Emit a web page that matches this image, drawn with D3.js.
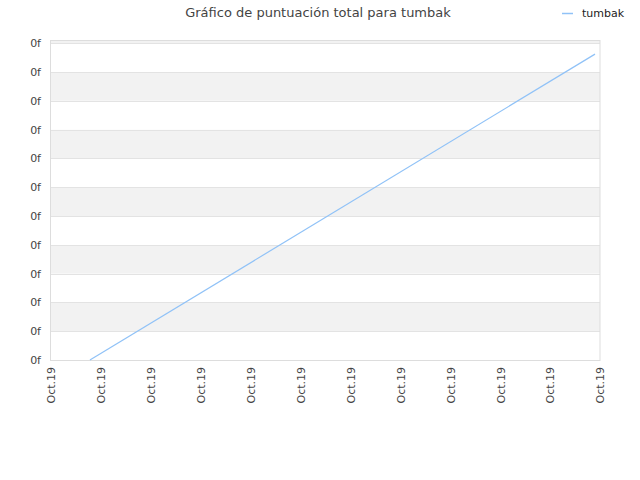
<!DOCTYPE html>
<html>
<head>
<meta charset="utf-8">
<script src="https://cdn.jsdelivr.net/npm/d3@7"></script>
<style>
  body { margin: 0; background: #fff; }
  svg { font-family: "DejaVu Sans", sans-serif; }
</style>
</head>
<body>
<div id="container"></div>
<script>
"use strict"

const chartTitle = "Gráfico de puntuación total para tumbak";
const seriesName = "tumbak";
// x positions are in tick units (one unit per "Oct.19" label)
const pointX = [0.78, 10.9];
const pointY = [0, 10.62];
const xTickLabels = ["Oct.19", "Oct.19", "Oct.19", "Oct.19", "Oct.19", "Oct.19",
                     "Oct.19", "Oct.19", "Oct.19", "Oct.19", "Oct.19", "Oct.19"];
const yTickValues = [0, 1, 2, 3, 4, 5, 6, 7, 8, 9, 10, 11];
const yTickLabel = "0f";

const width = 640;
const height = 480;
const margin = {top: 40, right: 40, bottom: 120, left: 51};
const lineColor = "#90c2f7";

let svg;
let xScale;
let yScale;

function Main()
{
    CreateSVG();
    CreateScales();
    DrawBands();
    DrawAxes();
    DrawLine();
    DrawTitle();
    DrawLegend();
    document.getElementById("container").append(svg.node());
};

function CreateSVG()
{
    svg = d3.create("svg")
        .attr("width", width)
        .attr("height", height);
};

function CreateScales()
{
    xScale = d3.scaleLinear()
        .domain([0, xTickLabels.length - 1])
        .range([margin.left, width - margin.right]);

    yScale = d3.scaleLinear()
        .domain([0, 11.11])
        .range([height - margin.bottom, margin.top]);
};

function DrawBands()
{
    const [y0, y1] = yScale.domain();
    const edges = yTickValues.concat([y1]);

    // alternating grey bands, starting grey at the second interval
    svg.append("g")
        .selectAll("rect")
        .data(edges.slice(0, -1))
        .enter()
        .append("rect")
        .attr("x", margin.left)
        .attr("width", width - margin.left - margin.right)
        .attr("y", (d, i) => yScale(edges[i + 1]))
        .attr("height", (d, i) => yScale(d) - yScale(edges[i + 1]))
        .attr("fill", (d, i) => i % 2 == 1 ? "#f2f2f2" : "#ffffff");

    // gridlines
    svg.append("g")
        .selectAll("line")
        .data(yTickValues)
        .enter()
        .append("line")
        .attr("x1", margin.left)
        .attr("x2", width - margin.right)
        .attr("y1", d => Math.round(yScale(d)) + 0.5)
        .attr("y2", d => Math.round(yScale(d)) + 0.5)
        .attr("stroke", "#e3e3e3");

    // frame
    svg.append("rect")
        .attr("x", margin.left - 0.5)
        .attr("y", margin.top + 0.5)
        .attr("width", width - margin.left - margin.right + 0.5)
        .attr("height", height - margin.top - margin.bottom)
        .attr("fill", "none")
        .attr("stroke", "#dddddd");
};

function DrawAxes()
{
    const yAxis = d3.axisLeft(yScale)
        .tickValues(yTickValues)
        .tickFormat(() => yTickLabel)
        .tickSize(0)
        .tickPadding(10);

    const yG = svg.append("g")
        .attr("transform", `translate(${margin.left},0)`)
        .call(yAxis);
    yG.select(".domain").remove();
    yG.selectAll("text")
        .attr("fill", "#444")
        .attr("font-size", "11px")
        .attr("font-family", "DejaVu Sans, sans-serif");

    const xAxis = d3.axisBottom(xScale)
        .tickValues(d3.range(xTickLabels.length))
        .tickFormat(i => xTickLabels[i])
        .tickSize(0);

    const xG = svg.append("g")
        .attr("transform", `translate(0,${height - margin.bottom})`)
        .call(xAxis);
    xG.select(".domain").remove();
    xG.selectAll("text")
        .attr("fill", "#444")
        .attr("font-size", "11px")
        .attr("font-family", "DejaVu Sans, sans-serif")
        .attr("text-anchor", "end")
        .attr("dy", "0.35em")
        .attr("transform", "translate(0,7) rotate(-90)")
        .attr("x", 0)
        .attr("y", 0);
};

function DrawLine()
{
    const line = d3.line()
        .x((d, i) => xScale(pointX[i]))
        .y(d => yScale(d));

    svg.append("path")
        .datum(pointY)
        .attr("d", line)
        .attr("fill", "none")
        .attr("stroke", lineColor)
        .attr("stroke-width", 1.2);
};

function DrawTitle()
{
    svg.append("text")
        .attr("x", 318)
        .attr("y", 17)
        .attr("text-anchor", "middle")
        .attr("font-size", "13px")
        .attr("fill", "#444")
        .text(chartTitle);
};

function DrawLegend()
{
    svg.append("line")
        .attr("x1", 562)
        .attr("x2", 573)
        .attr("y1", 13.5)
        .attr("y2", 13.5)
        .attr("stroke", lineColor)
        .attr("stroke-width", 1.5);

    svg.append("text")
        .attr("x", 582)
        .attr("y", 17)
        .attr("font-size", "11px")
        .attr("fill", "#222")
        .text(seriesName);
};

Main();
</script>
</body>
</html>
